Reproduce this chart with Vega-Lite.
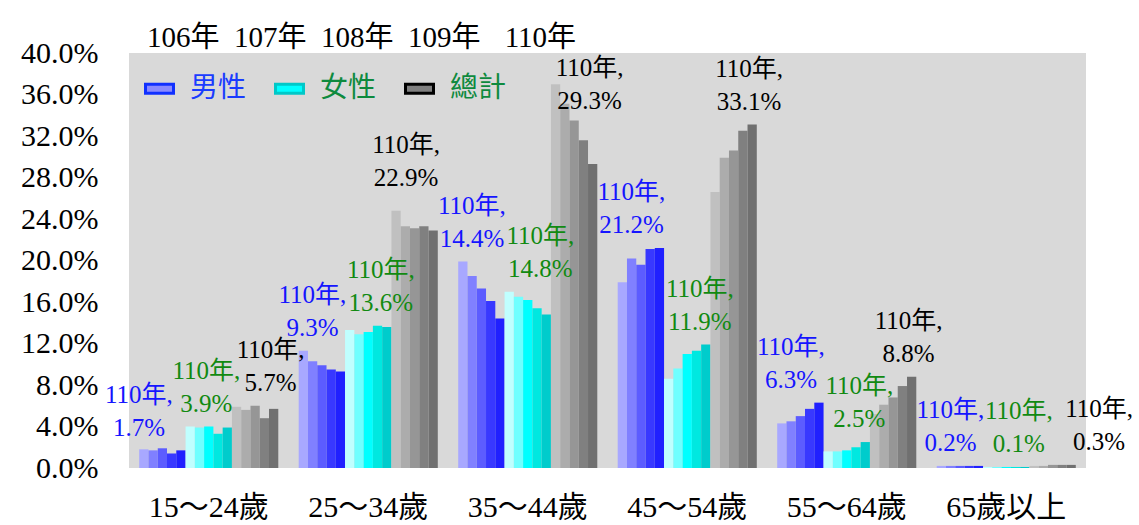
{
  "$schema": "https://vega.github.io/schema/vega-lite/v6.json",
  "width": 957,
  "height": 415,
  "autosize": {"type": "none"},
  "padding": {"left": 129, "top": 53, "right": 53, "bottom": 57},
  "background": "white",
  "title": {
    "text": "106年\u2002107年\u2002108年\u2002109年\u2002\u2004110年",
    "anchor": "start",
    "frame": "group",
    "dx": 18,
    "dy": 19,
    "offset": 4,
    "font": "'Liberation Serif', 'Noto Sans CJK TC'",
    "fontSize": 29,
    "fontWeight": "normal",
    "color": "#000000"
  },
  "config": {
    "view": {"fill": "#d9d9d9", "stroke": null},
    "axis": {
      "domain": false,
      "ticks": false,
      "grid": false,
      "labelFont": "'Liberation Serif', 'Noto Sans CJK TC'",
      "labelFontSize": 30,
      "labelColor": "#000000",
      "title": null
    }
  },
  "data": {
    "values": [
      {"group": "15～24歲", "series": "男性", "year": "106", "value": 1.8},
      {"group": "15～24歲", "series": "男性", "year": "107", "value": 1.7},
      {"group": "15～24歲", "series": "男性", "year": "108", "value": 1.9},
      {"group": "15～24歲", "series": "男性", "year": "109", "value": 1.4},
      {"group": "15～24歲", "series": "男性", "year": "110", "value": 1.7},
      {"group": "15～24歲", "series": "女性", "year": "106", "value": 4.0},
      {"group": "15～24歲", "series": "女性", "year": "107", "value": 3.9},
      {"group": "15～24歲", "series": "女性", "year": "108", "value": 4.0},
      {"group": "15～24歲", "series": "女性", "year": "109", "value": 3.3},
      {"group": "15～24歲", "series": "女性", "year": "110", "value": 3.9},
      {"group": "15～24歲", "series": "總計", "year": "106", "value": 5.9},
      {"group": "15～24歲", "series": "總計", "year": "107", "value": 5.6},
      {"group": "15～24歲", "series": "總計", "year": "108", "value": 6.0},
      {"group": "15～24歲", "series": "總計", "year": "109", "value": 4.8},
      {"group": "15～24歲", "series": "總計", "year": "110", "value": 5.7},
      {"group": "25～34歲", "series": "男性", "year": "106", "value": 11.3},
      {"group": "25～34歲", "series": "男性", "year": "107", "value": 10.3},
      {"group": "25～34歲", "series": "男性", "year": "108", "value": 9.9},
      {"group": "25～34歲", "series": "男性", "year": "109", "value": 9.5},
      {"group": "25～34歲", "series": "男性", "year": "110", "value": 9.3},
      {"group": "25～34歲", "series": "女性", "year": "106", "value": 13.3},
      {"group": "25～34歲", "series": "女性", "year": "107", "value": 12.9},
      {"group": "25～34歲", "series": "女性", "year": "108", "value": 13.1},
      {"group": "25～34歲", "series": "女性", "year": "109", "value": 13.7},
      {"group": "25～34歲", "series": "女性", "year": "110", "value": 13.6},
      {"group": "25～34歲", "series": "總計", "year": "106", "value": 24.8},
      {"group": "25～34歲", "series": "總計", "year": "107", "value": 23.3},
      {"group": "25～34歲", "series": "總計", "year": "108", "value": 23.1},
      {"group": "25～34歲", "series": "總計", "year": "109", "value": 23.3},
      {"group": "25～34歲", "series": "總計", "year": "110", "value": 22.9},
      {"group": "35～44歲", "series": "男性", "year": "106", "value": 19.9},
      {"group": "35～44歲", "series": "男性", "year": "107", "value": 18.5},
      {"group": "35～44歲", "series": "男性", "year": "108", "value": 17.3},
      {"group": "35～44歲", "series": "男性", "year": "109", "value": 16.1},
      {"group": "35～44歲", "series": "男性", "year": "110", "value": 14.4},
      {"group": "35～44歲", "series": "女性", "year": "106", "value": 17.0},
      {"group": "35～44歲", "series": "女性", "year": "107", "value": 16.5},
      {"group": "35～44歲", "series": "女性", "year": "108", "value": 16.2},
      {"group": "35～44歲", "series": "女性", "year": "109", "value": 15.4},
      {"group": "35～44歲", "series": "女性", "year": "110", "value": 14.8},
      {"group": "35～44歲", "series": "總計", "year": "106", "value": 37.0},
      {"group": "35～44歲", "series": "總計", "year": "107", "value": 35.1},
      {"group": "35～44歲", "series": "總計", "year": "108", "value": 33.5},
      {"group": "35～44歲", "series": "總計", "year": "109", "value": 31.6},
      {"group": "35～44歲", "series": "總計", "year": "110", "value": 29.3},
      {"group": "45～54歲", "series": "男性", "year": "106", "value": 17.9},
      {"group": "45～54歲", "series": "男性", "year": "107", "value": 20.2},
      {"group": "45～54歲", "series": "男性", "year": "108", "value": 19.6},
      {"group": "45～54歲", "series": "男性", "year": "109", "value": 21.1},
      {"group": "45～54歲", "series": "男性", "year": "110", "value": 21.2},
      {"group": "45～54歲", "series": "女性", "year": "106", "value": 8.6},
      {"group": "45～54歲", "series": "女性", "year": "107", "value": 9.6},
      {"group": "45～54歲", "series": "女性", "year": "108", "value": 11.0},
      {"group": "45～54歲", "series": "女性", "year": "109", "value": 11.3},
      {"group": "45～54歲", "series": "女性", "year": "110", "value": 11.9},
      {"group": "45～54歲", "series": "總計", "year": "106", "value": 26.6},
      {"group": "45～54歲", "series": "總計", "year": "107", "value": 29.9},
      {"group": "45～54歲", "series": "總計", "year": "108", "value": 30.6},
      {"group": "45～54歲", "series": "總計", "year": "109", "value": 32.5},
      {"group": "45～54歲", "series": "總計", "year": "110", "value": 33.1},
      {"group": "55～64歲", "series": "男性", "year": "106", "value": 4.3},
      {"group": "55～64歲", "series": "男性", "year": "107", "value": 4.5},
      {"group": "55～64歲", "series": "男性", "year": "108", "value": 5.0},
      {"group": "55～64歲", "series": "男性", "year": "109", "value": 5.7},
      {"group": "55～64歲", "series": "男性", "year": "110", "value": 6.3},
      {"group": "55～64歲", "series": "女性", "year": "106", "value": 1.6},
      {"group": "55～64歲", "series": "女性", "year": "107", "value": 1.6},
      {"group": "55～64歲", "series": "女性", "year": "108", "value": 1.7},
      {"group": "55～64歲", "series": "女性", "year": "109", "value": 2.0},
      {"group": "55～64歲", "series": "女性", "year": "110", "value": 2.5},
      {"group": "55～64歲", "series": "總計", "year": "106", "value": 5.2},
      {"group": "55～64歲", "series": "總計", "year": "107", "value": 6.1},
      {"group": "55～64歲", "series": "總計", "year": "108", "value": 6.8},
      {"group": "55～64歲", "series": "總計", "year": "109", "value": 7.9},
      {"group": "55～64歲", "series": "總計", "year": "110", "value": 8.8},
      {"group": "65歲以上", "series": "男性", "year": "106", "value": 0.2},
      {"group": "65歲以上", "series": "男性", "year": "107", "value": 0.2},
      {"group": "65歲以上", "series": "男性", "year": "108", "value": 0.2},
      {"group": "65歲以上", "series": "男性", "year": "109", "value": 0.2},
      {"group": "65歲以上", "series": "男性", "year": "110", "value": 0.2},
      {"group": "65歲以上", "series": "女性", "year": "106", "value": 0.1},
      {"group": "65歲以上", "series": "女性", "year": "107", "value": 0.1},
      {"group": "65歲以上", "series": "女性", "year": "108", "value": 0.1},
      {"group": "65歲以上", "series": "女性", "year": "109", "value": 0.1},
      {"group": "65歲以上", "series": "女性", "year": "110", "value": 0.1},
      {"group": "65歲以上", "series": "總計", "year": "106", "value": 0.2},
      {"group": "65歲以上", "series": "總計", "year": "107", "value": 0.2},
      {"group": "65歲以上", "series": "總計", "year": "108", "value": 0.3},
      {"group": "65歲以上", "series": "總計", "year": "109", "value": 0.3},
      {"group": "65歲以上", "series": "總計", "year": "110", "value": 0.3}
    ]
  },
  "transform": [
    {"calculate": "datum.series + datum.year", "as": "key"},
    {"joinaggregate": [{"op": "max", "field": "value", "as": "smax"}], "groupby": ["group", "series"]},
    {"calculate": "min(datum.smax, 33.2)", "as": "labelY"},
    {"calculate": "'110年,\\n' + format(datum.value, '.1f') + '%'", "as": "label"}
  ],
  "encoding": {
    "x": {
      "field": "group",
      "type": "nominal",
      "sort": ["15～24歲", "25～34歲", "35～44歲", "45～54歲", "55～64歲", "65歲以上"],
      "scale": {"paddingInner": 0.128, "paddingOuter": 0.064},
      "axis": {"labelAngle": 0, "labelPadding": 24},
      "title": null
    },
    "xOffset": {
      "field": "key",
      "type": "nominal",
      "sort": ["男性106", "男性107", "男性108", "男性109", "男性110", "女性106", "女性107", "女性108", "女性109", "女性110", "總計106", "總計107", "總計108", "總計109", "總計110"],
      "scale": {"paddingInner": 0, "paddingOuter": 0}
    }
  },
  "layer": [
    {
      "mark": {"type": "bar", "strokeWidth": 0},
      "encoding": {
        "y": {
          "field": "value",
          "type": "quantitative",
          "scale": {"domain": [0, 40], "nice": false},
          "axis": {
            "values": [0, 4, 8, 12, 16, 20, 24, 28, 32, 36, 40],
            "labelExpr": "format(datum.value, '.1f') + '%'",
            "labelPadding": 31
          },
          "title": null
        },
        "fill": {
          "field": "key",
          "type": "nominal",
          "scale": {
            "domain": ["男性106", "男性107", "男性108", "男性109", "男性110", "女性106", "女性107", "女性108", "女性109", "女性110", "總計106", "總計107", "總計108", "總計109", "總計110"],
            "range": ["#a8a8ff", "#8080ff", "#5c5cff", "#3838ff", "#2020ff", "#c0ffff", "#70ffff", "#00ffff", "#00e8e0", "#00cccc", "#c0c0c0", "#acacac", "#969696", "#808080", "#707070"]
          },
          "legend": null
        },
        "stroke": {
          "field": "series",
          "type": "nominal",
          "scale": {"domain": ["男性", "女性", "總計"], "range": ["#1030ff", "#00c8c8", "#000000"]},
          "legend": {
            "orient": "none",
            "legendX": 15,
            "legendY": 20,
            "direction": "horizontal",
            "title": null,
            "padding": 0,
            "symbolType": "M-1,-0.32H1V0.32H-1Z",
            "symbolSize": 784,
            "symbolStrokeWidth": 3,
            "symbolFillColor": {"expr": "datum.label === '男性' ? '#8a8aff' : datum.label === '女性' ? '#00ffff' : '#808080'"},
            "labelColor": {"expr": "datum.label === '男性' ? '#1a3cff' : '#0e8a3e'"},
            "labelFont": "'Noto Sans CJK TC'",
            "labelFontSize": 28,
            "labelOffset": 15,
            "columnPadding": 22
          }
        }
      }
    },
    {
      "transform": [{"filter": "datum.series === '男性' && datum.year === '110' && datum.group !== '15～24歲'"}],
      "mark": {"type": "text", "baseline": "bottom", "lineBreak": "\n", "lineHeight": 33, "dx": -28, "dy": -43, "font": "'Liberation Serif', 'Noto Sans CJK TC'", "fontSize": 25, "color": "#1515ff"},
      "encoding": {
        "y": {"field": "labelY", "type": "quantitative", "title": null},
        "text": {"field": "label", "type": "nominal"}
      }
    },
    {
      "transform": [{"filter": "datum.series === '男性' && datum.year === '110' && datum.group === '15～24歲'"}],
      "mark": {"type": "text", "baseline": "bottom", "lineBreak": "\n", "lineHeight": 33, "dx": -42, "dy": -40, "font": "'Liberation Serif', 'Noto Sans CJK TC'", "fontSize": 25, "color": "#1515ff"},
      "encoding": {
        "y": {"field": "labelY", "type": "quantitative", "title": null},
        "text": {"field": "label", "type": "nominal"}
      }
    },
    {
      "transform": [{"filter": "datum.series === '女性' && datum.year === '110' && datum.group !== '15～24歲'"}],
      "mark": {"type": "text", "baseline": "bottom", "lineBreak": "\n", "lineHeight": 33, "dx": -6, "dy": -43, "font": "'Liberation Serif', 'Noto Sans CJK TC'", "fontSize": 25, "color": "#118a11"},
      "encoding": {
        "y": {"field": "labelY", "type": "quantitative", "title": null},
        "text": {"field": "label", "type": "nominal"}
      }
    },
    {
      "transform": [{"filter": "datum.series === '女性' && datum.year === '110' && datum.group === '15～24歲'"}],
      "mark": {"type": "text", "baseline": "bottom", "lineBreak": "\n", "lineHeight": 33, "dx": -21, "dy": -43, "font": "'Liberation Serif', 'Noto Sans CJK TC'", "fontSize": 25, "color": "#118a11"},
      "encoding": {
        "y": {"field": "labelY", "type": "quantitative", "title": null},
        "text": {"field": "label", "type": "nominal"}
      }
    },
    {
      "transform": [{"filter": "datum.series === '總計' && datum.year === '110' && datum.group !== '65歲以上' && datum.group !== '25～34歲'"}],
      "mark": {"type": "text", "baseline": "bottom", "lineBreak": "\n", "lineHeight": 33, "dx": -3, "dy": -43, "font": "'Liberation Serif', 'Noto Sans CJK TC'", "fontSize": 25, "color": "#000000"},
      "encoding": {
        "y": {"field": "labelY", "type": "quantitative", "title": null},
        "text": {"field": "label", "type": "nominal"}
      }
    },
    {
      "transform": [{"filter": "datum.series === '總計' && datum.year === '110' && datum.group === '25～34歲'"}],
      "mark": {"type": "text", "baseline": "bottom", "lineBreak": "\n", "lineHeight": 33, "dx": -27, "dy": -53, "font": "'Liberation Serif', 'Noto Sans CJK TC'", "fontSize": 25, "color": "#000000"},
      "encoding": {
        "y": {"field": "labelY", "type": "quantitative", "title": null},
        "text": {"field": "label", "type": "nominal"}
      }
    },
    {
      "transform": [{"filter": "datum.series === '總計' && datum.year === '110' && datum.group === '65歲以上'"}],
      "mark": {"type": "text", "baseline": "bottom", "lineBreak": "\n", "lineHeight": 33, "dx": 28, "dy": -43, "font": "'Liberation Serif', 'Noto Sans CJK TC'", "fontSize": 25, "color": "#000000"},
      "encoding": {
        "y": {"field": "labelY", "type": "quantitative", "title": null},
        "text": {"field": "label", "type": "nominal"}
      }
    }
  ]
}
